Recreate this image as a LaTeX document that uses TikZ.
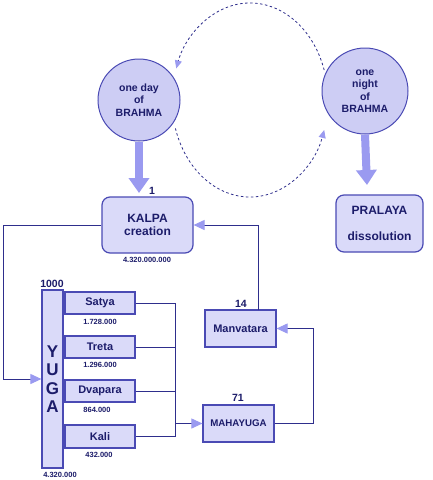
\documentclass[tikz,border=0pt]{standalone}
\usepackage{fontspec}
\setmainfont{Liberation Sans}
\usetikzlibrary{arrows.meta}
\definecolor{navy}{HTML}{2E2E8C}
\definecolor{bord}{HTML}{4A4AB4}
\definecolor{txt}{HTML}{1C1C6A}
\definecolor{boxfill}{HTML}{DADAF9}
\definecolor{circfill}{HTML}{CDCDF4}
\definecolor{arrc}{HTML}{9A9AF0}
\begin{document}
\begin{tikzpicture}[x=1pt,y=-1pt,
  every node/.style={text=txt},
  circ/.style={circle, draw=bord, line width=1pt, fill=circfill, align=center, inner sep=0pt, font=\fontsize{10.5}{12.5}\selectfont\bfseries},
  rbox/.style={rectangle, rounded corners=8pt, draw=bord, line width=1.2pt, fill=boxfill, align=center, inner sep=0pt},
  sbox/.style={rectangle, draw=bord, line width=1.2pt, fill=boxfill, inner sep=0pt, font=\fontsize{11}{13}\selectfont\bfseries},
  num/.style={font=\fontsize{7.5}{8}\selectfont\bfseries, inner sep=0pt},
  cnt/.style={font=\fontsize{10.5}{11}\selectfont\bfseries, inner sep=0pt},
  link/.style={draw=navy, line width=1pt},
  tip/.style={-{Triangle[length=11pt,width=10pt,color=arrc,fill=arrc]}},
  big/.style={draw=arrc, line width=8pt, -{Triangle[length=15pt,width=20pt,color=arrc,fill=arrc]}},
  cyc/.style={draw=navy, line width=0.8pt, dash pattern=on 2.5pt off 2.5pt, -{Triangle[length=8pt,width=7pt,color=arrc,fill=arrc]}}
]
\fill[white] (0,0) rectangle (432,480);
\useasboundingbox (0,0) rectangle (432,480);

% cycle arcs
\coordinate (c1) at ({250+78*cos(-18)},{100+97*sin(-18)});
\coordinate (c2) at ({250+78*cos(163)},{100+97*sin(163)});
\draw[cyc] (c1) arc[start angle=-18, end angle=-161, x radius=78, y radius=97];
\draw[cyc] (c2) arc[start angle=163, end angle=18, x radius=78, y radius=97];

% circles
\node[circ, minimum size=82pt] (day) at (139,100) {one day\\of\\BRAHMA};
\node[circ, minimum size=86pt] (night) at (365,91) {one\\night\\of\\BRAHMA};

% boxes
\node[rbox, minimum width=91pt, minimum height=56pt, font=\fontsize{12}{12.5}\selectfont\bfseries] (kalpa) at (147.5,225) {KALPA\\creation};
\node[rbox, minimum width=87pt, minimum height=57pt, font=\fontsize{12}{26}\selectfont\bfseries] (pralaya) at (379.5,223.5) {PRALAYA\\dissolution};
\node[sbox, minimum width=71pt, minimum height=37pt] (manv) at (240.5,328.5) {Manvatara};
\node[sbox, minimum width=71pt, minimum height=37pt, font=\fontsize{9.7}{11}\selectfont\bfseries] (maha) at (238.5,423.5) {MAHAYUGA};
\node[sbox, minimum width=21pt, minimum height=178pt, align=center, font=\fontsize{17}{18.5}\selectfont\bfseries] (yuga) at (52.5,379) {Y\\U\\G\\A};
\node[sbox, minimum width=70pt, minimum height=22pt] (satya) at (100,303) {Satya};
\node[sbox, minimum width=70pt, minimum height=22pt] (treta) at (100,347) {Treta};
\node[sbox, minimum width=70pt, minimum height=22pt] (dvapara) at (100,391) {Dvapara};
\node[sbox, minimum width=70pt, minimum height=23pt] (kali) at (100,436.5) {Kali};

% thick arrows
\draw[big] (day.south) -- (139,193);
\draw[big] (night.south) -- (367,185);

% labels
\node[cnt] (l1) at (152,191) {1};
\node[num] (lk) at (147,260) {4.320.000.000};
\node[cnt] (l14) at (241,304) {14};
\node[cnt] (l71) at (238,398) {71};
\node[cnt] (l1000) at (52,284) {1000};
\node[num] (ly) at (60,475) {4.320.000};
\node[num] (ls) at (100,322) {1.728.000};
\node[num] (lt) at (100,365) {1.296.000};
\node[num] (ld) at (97,410) {864.000};
\node[num] (lka) at (99,455) {432.000};

% connectors
\coordinate (left) at (3,225);
\draw[link, tip] (kalpa.west) -- (left) |- (yuga.west);

\coordinate (jt) at (175,303);
\coordinate (jb) at (175,436.5);
\coordinate (jm) at (175,423.5);
\draw[link] (satya.east) -- (jt) -- (jb) -- (kali.east);
\draw[link] (treta.east) -- (treta.east -| jt);
\draw[link] (dvapara.east) -- (dvapara.east -| jt);
\draw[link, tip] (jm) -- (maha.west);

\coordinate (rr) at (313,423.5);
\draw[link, tip] (maha.east) -- (rr) |- (manv.east);

\coordinate (up) at (258,310);
\draw[link, tip] (up) |- (kalpa.east);
\end{tikzpicture}
\end{document}
